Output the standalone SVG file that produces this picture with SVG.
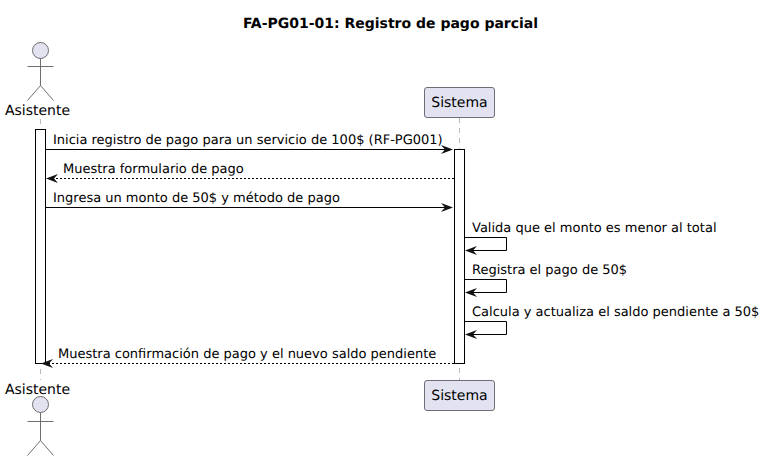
<svg xmlns="http://www.w3.org/2000/svg" width="765" height="461" viewBox="0 0 765 461">
<style>
text{font-family:"DejaVu Sans",sans-serif;fill:#000;text-rendering:geometricPrecision}
.m{font-size:13px}
.p{font-size:14px}
.t{font-size:14px;font-weight:bold}
.life{stroke:#181818;stroke-opacity:.6;stroke-width:.5;stroke-dasharray:5 5;fill:none}
.act{fill:#fff;stroke:#000;stroke-width:1}
.box{fill:#E2E2F0;stroke:#5f5f66;stroke-width:.9}
.fig{fill:none;stroke:#5f5f5f;stroke-width:.9}
.head{fill:#E2E2F0;stroke:#5f5f5f;stroke-width:.9}
.c{fill:none;stroke:#000;stroke-width:1}
.d{stroke-dasharray:2 2}
</style>
<defs>
<path id="ar" d="M0 0L-12 -4.500L-8 0L-12 4.500Z" fill="#111"/>
<path id="al" d="M0 0L12 -4.500L8 0L12 4.500Z" fill="#111"/>
</defs>
<text class="t" x="390.500" y="28" text-anchor="middle">FA-PG01-01: Registro de pago parcial</text>
<g id="lifelines">
<line class="life" x1="40.500" y1="119" x2="40.500" y2="380"/>
<line class="life" x1="459.500" y1="118" x2="459.500" y2="380"/>
</g>
<g id="activations">
<rect class="act" x="35.500" y="129.500" width="10" height="234"/>
<rect class="act" x="454.500" y="149.500" width="10" height="214"/>
</g>
<g id="asistente-top">
<circle class="head" cx="40.500" cy="50.500" r="8"/>
<path class="fig" d="M40.500 58.500V85.500M27.500 66.500H53.500M40.500 85.500L27.500 100.500M40.500 85.500L53.500 100.500"/>
<text class="p" x="37.500" y="115" text-anchor="middle">Asistente</text>
</g>
<g id="sistema-top">
<rect class="box" x="424.500" y="87.500" width="70" height="30" rx="2.500"/>
<text class="p" x="459.500" y="107" text-anchor="middle">Sistema</text>
</g>
<g id="asistente-bottom">
<text class="p" x="37.500" y="394" text-anchor="middle">Asistente</text>
<circle class="head" cx="40.500" cy="404.500" r="8"/>
<path class="fig" d="M40.500 412.500V440.500M27.500 421.500H53.500M40.500 440.500L27.500 455.500M40.500 440.500L53.500 455.500"/>
</g>
<g id="sistema-bottom">
<rect class="box" x="424.500" y="380.500" width="70" height="30" rx="2.500"/>
<text class="p" x="459.500" y="400" text-anchor="middle">Sistema</text>
</g>
<g id="connectors">
<line class="c" x1="45.500" y1="149.500" x2="450" y2="149.500"/><use href="#ar" x="453" y="149.500"/>
<line class="c d" x1="454" y1="178.500" x2="50" y2="178.500"/><use href="#al" x="46" y="178.500"/>
<line class="c" x1="45.500" y1="207.500" x2="450" y2="207.500"/><use href="#ar" x="453" y="207.500"/>
<path class="c" d="M464.500 237.500H506.500V250.500H470"/><use href="#al" x="465" y="250.500"/>
<path class="c" d="M464.500 279.500H506.500V292.500H470"/><use href="#al" x="465" y="292.500"/>
<path class="c" d="M464.500 321.500H506.500V334.500H470"/><use href="#al" x="465" y="334.500"/>
<line class="c d" x1="454" y1="363.500" x2="46" y2="363.500"/><use href="#al" x="41" y="363.500"/>
</g>
<g id="labels">
<text class="m" x="53" y="144.300">Inicia registro de pago para un servicio de 100$ (RF-PG001)</text>
<text class="m" x="63" y="173.300">Muestra formulario de pago</text>
<text class="m" x="53" y="202.300">Ingresa un monto de 50$ y método de pago</text>
<text class="m" x="472" y="232.300">Valida que el monto es menor al total</text>
<text class="m" x="472" y="274.300">Registra el pago de 50$</text>
<text class="m" x="472" y="316.300">Calcula y actualiza el saldo pendiente a 50$</text>
<text class="m" x="58" y="358.300">Muestra confirmación de pago y el nuevo saldo pendiente</text>
</g>
</svg>
